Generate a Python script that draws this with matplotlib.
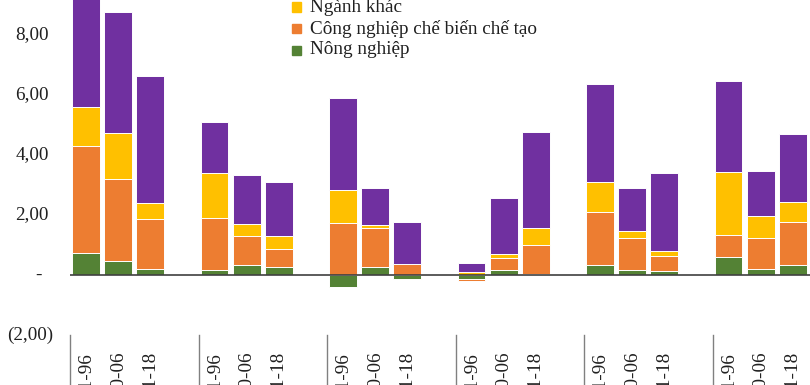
import matplotlib
matplotlib.use('Agg')
import matplotlib.pyplot as plt
from matplotlib.patches import Rectangle
from matplotlib.transforms import blended_transform_factory
import numpy as np

# ---------------- data ----------------
periods = ["1991-96", "2000-06", "2011-18"]
n_groups = 6
y_ticks = [8, 6, 4, 2, 0, -2]
y_tick_labels = ["8,00", "6,00", "4,00", "2,00", "-", "(2,00)"]

series_names = ["Nông nghiệp", "Công nghiệp chế biến chế tạo", "Ngành khác"]
nong_nghiep = [0.72, 0.47, 0.21, 0.18, 0.32, 0.28, -0.39, 0.27, -0.13,
               -0.14, 0.18, 0.02, 0.34, 0.17, 0.13, 0.60, 0.21, 0.33]
cong_nghiep = [3.59, 2.73, 1.66, 1.73, 0.98, 0.59, 1.73, 1.31, 0.38,
               -0.06, 0.40, 0.99, 1.76, 1.05, 0.49, 0.72, 1.01, 1.44]
nganh_khac = [1.30, 1.52, 0.54, 1.50, 0.41, 0.43, 1.11, 0.09, 0.00,
              0.11, 0.12, 0.57, 0.99, 0.25, 0.19, 2.11, 0.76, 0.67]
chuyen_dich = [4.00, 4.05, 4.21, 1.69, 1.63, 1.81, 3.07, 1.22, 1.39,
               0.30, 1.86, 3.18, 3.27, 1.42, 2.60, 3.04, 1.49, 2.25]

colors = ["#548235", "#ED7D31", "#FFC000", "#7030A0"]

# ---------------- figure ----------------
W, H = 810, 385
fig = plt.figure(figsize=(W / 100, H / 100), dpi=100)
plt.rcParams['font.family'] = ['Liberation Serif', 'DejaVu Serif']
FS = 13.8

ax_left, ax_right, ax_bottom, ax_top = 70, 841, 335, 0
ax = fig.add_axes([ax_left / W, (H - ax_bottom) / H,
                   (ax_right - ax_left) / W, (ax_bottom - ax_top) / H])
ax.set_xlim(-0.5, 4 * n_groups - 0.5)
ax.set_ylim(-2, -2 + 335 / 30)

x = np.array([g * 4 + i for g in range(n_groups) for i in range(3)], dtype=float)
pos_base = np.zeros(len(x))
neg_base = np.zeros(len(x))
for vals, col in zip([nong_nghiep, cong_nghiep, nganh_khac, chuyen_dich], colors):
    v = np.array(vals)
    base = np.where(v >= 0, pos_base, neg_base)
    ax.bar(x, v, bottom=base, width=0.86, color=col, edgecolor='white',
           linewidth=0.7, zorder=2)
    pos_base = pos_base + np.where(v >= 0, v, 0)
    neg_base = neg_base + np.where(v < 0, v, 0)

ax.axhline(0, color='#404040', linewidth=1.2, zorder=3)

for s in ax.spines.values():
    s.set_visible(False)
ax.set_yticks([])

# category tick labels
ax.set_xticks(x)
ax.set_xticklabels(periods * n_groups, rotation=90, fontsize=FS,
                   va='top', ha='center', color='#202020')
ax.tick_params(axis='x', length=0, pad=12)

# group separators
tr = blended_transform_factory(ax.transData, ax.transAxes)
for g in range(n_groups + 1):
    xs = g * 4 - 0.5
    ax.plot([xs, xs], [0, -0.3], transform=tr, color='#808080',
            linewidth=1.0, clip_on=False)

# y labels
ty = blended_transform_factory(fig.transFigure, ax.transData)
for v, lab in zip(y_ticks, y_tick_labels):
    if lab == "-":
        ax.text(38 / W, v, lab, transform=ty, ha='center', va='center',
                fontsize=FS, color='#202020')
    elif v < 0:
        ax.text(53 / W, v, lab, transform=ty, ha='right', va='center',
                fontsize=FS, color='#202020')
    else:
        ax.text(49 / W, v, lab, transform=ty, ha='right', va='center',
                fontsize=FS, color='#202020')

# legend (manual, top-to-bottom: Ngành khác, CN chế biến chế tạo, Nông nghiệp)
leg_items = [(series_names[2], colors[2]), (series_names[1], colors[1]),
             (series_names[0], colors[0])]
for i, (lab, col) in enumerate(leg_items):
    yc = 7 + i * 21.5
    fig.add_artist(Rectangle((292 / W, (H - yc - 4.5) / H), 9 / W, 9 / H,
                             transform=fig.transFigure, color=col))
    fig.text(310 / W, (H - yc) / H, lab, ha='left', va='center',
             fontsize=FS, color='#202020')

fig.savefig('out.png', dpi=100)
